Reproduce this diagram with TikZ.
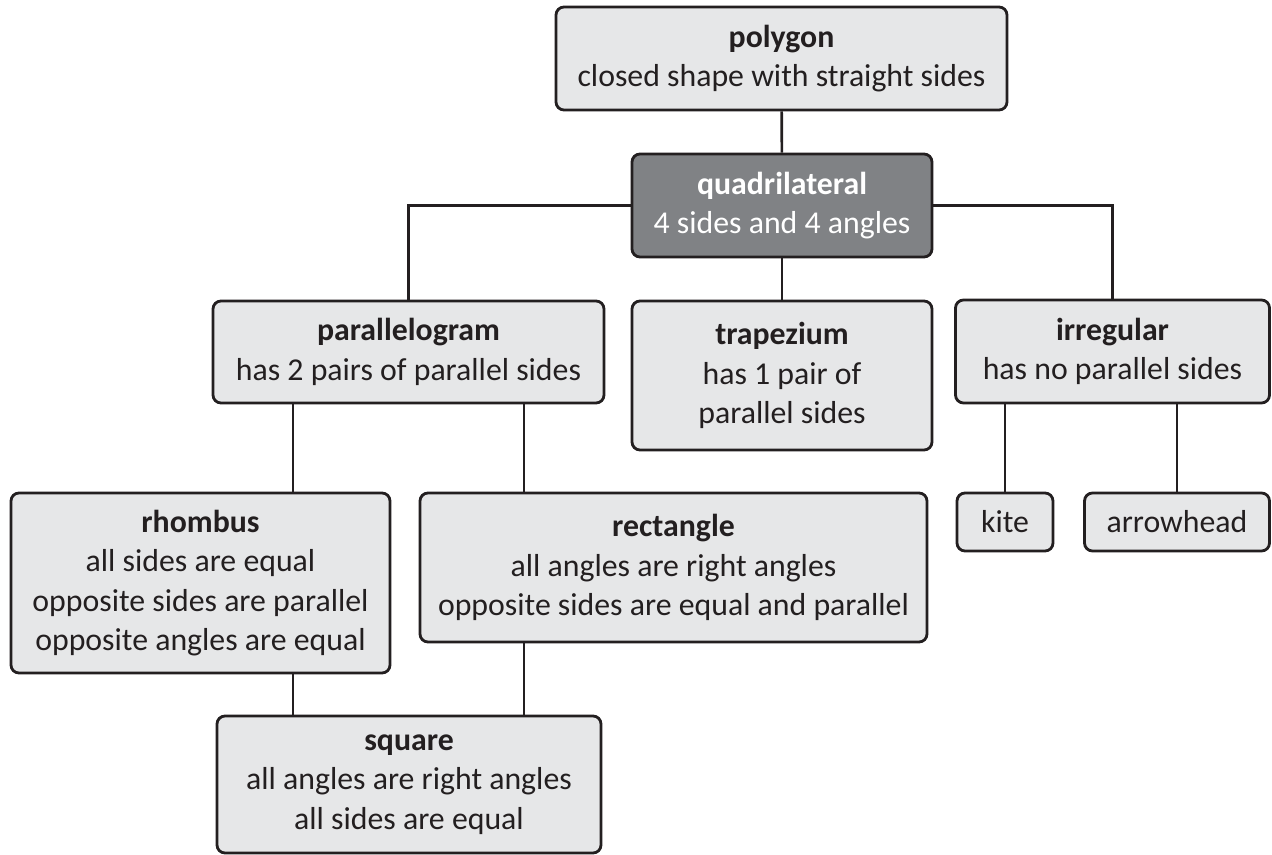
\documentclass[tikz,border=0pt]{standalone}
\usepackage{fontspec}
\setmainfont{Carlito}
\definecolor{boxgray}{HTML}{E6E7E8}
\definecolor{darkbox}{HTML}{808285}
\definecolor{inkline}{HTML}{231F20}
\begin{document}
\begin{tikzpicture}[x=0.5pt, y=-0.5pt,
  concept/.style={draw=inkline, line width=1.4pt, rounded corners=4pt, fill=boxgray, text=inkline,
    align=center, inner sep=0pt, font=\fontsize{15.9}{19.6}\selectfont},
  link/.style={draw=inkline, line width=1.3pt}]
\useasboundingbox[fill=white] (0,0) rectangle (1272,855);
\node[concept, minimum width=225.5pt, minimum height=51.5pt] (n1) at (781.5,58.5) {\textbf{polygon}\\closed shape with straight sides};
\node[concept, fill=darkbox, text=white, minimum width=150pt, minimum height=51.5pt] (n2) at (782,205.5) {\textbf{quadrilateral}\\4 sides and 4 angles};
\node[concept, minimum width=195.5pt, minimum height=51pt] (n3) at (408.5,352) {\textbf{parallelogram}\\has 2 pairs of parallel sides};
\node[concept, minimum width=150pt, minimum height=74.5pt] (n4) at (782,375.5) {\textbf{trapezium}\\has 1 pair of\\parallel sides};
\node[concept, minimum width=157pt, minimum height=51.5pt] (n5) at (1112.5,351.5) {\textbf{irregular}\\has no parallel sides};
\node[concept, minimum width=48pt, minimum height=29pt] (n6) at (1005,522) {kite};
\node[concept, minimum width=92.5pt, minimum height=29pt] (n7) at (1177,522) {arrowhead};
\node[concept, minimum width=189.5pt, minimum height=90pt] (n8) at (200.5,583) {\textbf{rhombus}\\all sides are equal\\opposite sides are parallel\\opposite angles are equal};
\node[concept, minimum width=253.5pt, minimum height=74.5pt] (n9) at (673.5,567.5) {\textbf{rectangle}\\all angles are right angles\\opposite sides are equal and parallel};
\node[concept, minimum width=192pt, minimum height=68.5pt] (n10) at (409,784.5) {\textbf{square}\\all angles are right angles\\all sides are equal};
\draw[link] (n1) -- (n2);
\draw[link] (n2) -- (n4);
\draw[link] (n2.west) -| (n3.north);
\draw[link] (n2.east) -| (n5.north);
% parallelogram branches
\draw[link] ([xshift=-58pt]n10.north |- n3.south) -- ([xshift=-58pt]n10.north |- n8.north);
\draw[link] ([xshift=57.5pt]n10.north |- n3.south) -- ([xshift=57.5pt]n10.north |- n9.north);
\draw[link] ([xshift=-58pt]n10.north |- n8.south) -- ([xshift=-58pt]n10.north);
\draw[link] ([xshift=57.5pt]n10.north |- n9.south) -- ([xshift=57.5pt]n10.north);
% irregular branches
\draw[link] (n6.north) -- (n6.north |- n5.south);
\draw[link] (n7.north) -- (n7.north |- n5.south);
\end{tikzpicture}
\end{document}
